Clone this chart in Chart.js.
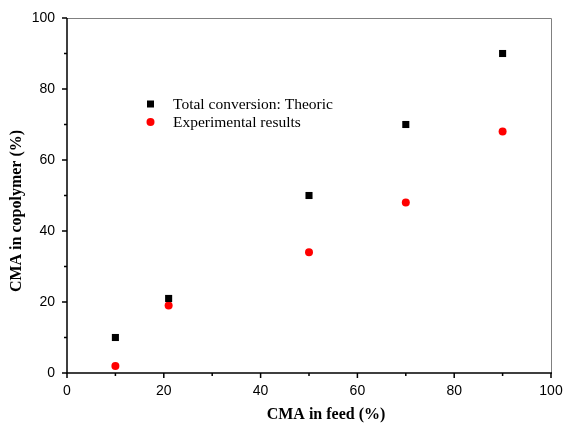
<!DOCTYPE html>
<html>
<head>
<meta charset="utf-8">
<script src="https://cdn.jsdelivr.net/npm/chart.js@4.4.0/dist/chart.umd.min.js"></script>
<style>
  html, body { margin: 0; padding: 0; background: #fff; }
  #wrap { width: 563px; height: 424px; }
</style>
</head>
<body>
<div id="wrap"><canvas id="myChart"></canvas></div>
<script>
// data
const feed = [10, 21, 50, 70, 90];
const theoric = [10, 21, 50, 70, 90];
const experimental = [2, 19, 34, 48, 68];
const xTicks = [0, 20, 40, 60, 80, 100];
const yTicks = [0, 20, 40, 60, 80, 100];
const xTitle = 'CMA in feed (%)';
const yTitle = 'CMA in copolymer (%)';

function toPoints(xs, ys) {
    return xs.map(function(x, i) { return { x: x, y: ys[i] }; });
}

const serif = '"Liberation Serif", "Times New Roman", serif';

// outward ticks (major + minor), grey top/right frame, titles, legend inside plot
const framePlugin = {
    id: 'frame',
    afterDraw: function(chart) {
        const ctx = chart.ctx;
        const a = chart.chartArea;
        const xs = chart.scales.x, ys = chart.scales.y;
        ctx.save();
        // grey top and right lines
        ctx.strokeStyle = '#808080';
        ctx.lineWidth = 1;
        ctx.beginPath();
        ctx.moveTo(a.left, a.top + 0.5);
        ctx.lineTo(a.right + 0.5, a.top + 0.5);
        ctx.lineTo(a.right + 0.5, a.bottom);
        ctx.stroke();
        // black left and bottom axis
        ctx.strokeStyle = '#000';
        ctx.lineWidth = 1.5;
        ctx.beginPath();
        ctx.moveTo(a.left, a.top);
        ctx.lineTo(a.left, a.bottom);
        ctx.lineTo(a.right + 1, a.bottom);
        ctx.stroke();
        // ticks
        for (let v = 0; v <= 100; v += 10) {
            const len = v % 20 === 0 ? 5 : 3;
            const px = xs.getPixelForValue(v);
            const py = ys.getPixelForValue(v);
            ctx.beginPath();
            ctx.moveTo(px, a.bottom);
            ctx.lineTo(px, a.bottom + len);
            ctx.moveTo(a.left, py);
            ctx.lineTo(a.left - len, py);
            ctx.stroke();
        }
        // axis titles
        ctx.fillStyle = '#000';
        ctx.font = 'bold 16px ' + serif;
        ctx.textAlign = 'center';
        ctx.textBaseline = 'middle';
        ctx.fillText(xTitle, 326, 415);
        ctx.save();
        ctx.translate(17, 211);
        ctx.rotate(-Math.PI / 2);
        ctx.fillText(yTitle, 0, 0);
        ctx.restore();
        // legend
        ctx.font = '15.5px ' + serif;
        ctx.textAlign = 'left';
        const rows = [105, 123];
        chart.data.datasets.forEach(function(ds, i) {
            const y = rows[i];
            ctx.fillStyle = ds.backgroundColor;
            if (ds.pointStyle === 'rect') {
                ctx.fillRect(147, y - 4.5, 7, 7);
            } else {
                ctx.beginPath();
                ctx.arc(150.5, y - 1, 4, 0, Math.PI * 2);
                ctx.fill();
            }
            ctx.fillStyle = '#000';
            ctx.fillText(ds.label, 173, y);
        });
        ctx.restore();
    }
};

const tickFont = { family: '"Liberation Sans", Arial, sans-serif', size: 14 };

const ctx = document.getElementById('myChart').getContext('2d');
const myChart = new Chart(ctx, {
    type: 'scatter',
    data: {
        datasets: [{
            label: 'Total conversion: Theoric',
            data: toPoints(feed, theoric),
            pointStyle: 'rect',
            pointRadius: 5,
            backgroundColor: '#000',
            borderColor: '#000',
            borderWidth: 0
        }, {
            label: 'Experimental results',
            data: toPoints(feed, experimental),
            pointStyle: 'circle',
            pointRadius: 4,
            backgroundColor: '#ff0000',
            borderColor: '#ff0000',
            borderWidth: 0
        }]
    },
    options: {
        responsive: true,
        maintainAspectRatio: false,
        animation: false,
        layout: { padding: { top: 18, right: 12, left: 0, bottom: 0 } },
        plugins: {
            legend: { display: false },
            tooltip: { enabled: false }
        },
        scales: {
            x: {
                type: 'linear',
                min: 0,
                max: 100,
                afterFit: function(scale) {
                    scale.height = 51;
                    scale.paddingLeft = 0;
                    scale.paddingRight = 0;
                },
                afterBuildTicks: function(scale) {
                    scale.ticks = xTicks.map(function(v) { return { value: v }; });
                },
                grid: { display: false, drawTicks: false },
                border: { display: false },
                ticks: { padding: 10, color: '#000', maxRotation: 0, font: tickFont }
            },
            y: {
                type: 'linear',
                min: 0,
                max: 100,
                afterFit: function(scale) {
                    scale.width = 67;
                    scale.paddingTop = 0;
                    scale.paddingBottom = 0;
                },
                afterBuildTicks: function(scale) {
                    scale.ticks = yTicks.map(function(v) { return { value: v }; });
                },
                grid: { display: false, drawTicks: false },
                border: { display: false },
                ticks: { padding: 12, color: '#000', font: tickFont }
            }
        }
    },
    plugins: [framePlugin]
});
</script>
</body>
</html>
